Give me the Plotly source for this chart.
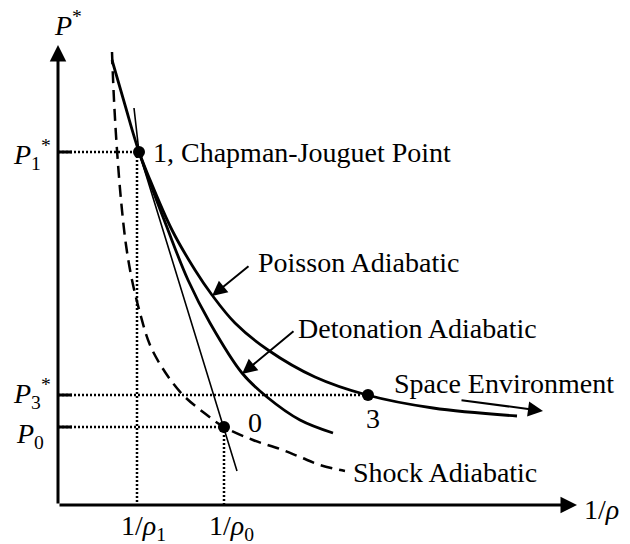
import plotly.graph_objects as go

# ---- data (schematic units: 1/rho on x, P* on y) ----
pois_x = [0.81, 0.90, 1.14, 1.37, 1.54, 1.77, 2.10, 2.57, 3.09, 3.75, 4.59]
pois_y = [3.53, 3.30, 2.75, 2.35, 2.10, 1.82, 1.55, 1.28, 1.10, 0.97, 0.89]

det_x = [0.54, 0.67, 0.81, 1.10, 1.30, 1.52, 1.84, 2.09, 2.42, 2.75]
det_y = [4.45, 4.00, 3.53, 2.75, 2.25, 1.82, 1.32, 1.08, 0.85, 0.72]

ray_x = [0.76, 0.81, 1.79]
ray_y = [3.97, 3.53, 0.34]

shock_x = [0.54, 0.56, 0.59, 0.63, 0.68, 0.74, 0.82, 0.92, 1.07, 1.25, 1.45, 1.66, 1.95, 2.22, 2.42, 2.62, 2.87]
shock_y = [4.53, 4.05, 3.55, 3.05, 2.60, 2.25, 1.92, 1.60, 1.33, 1.10, 0.93, 0.78, 0.65, 0.56, 0.48, 0.40, 0.34]

inv_rho1 = 0.79
inv_rho0 = 1.66
P1 = 3.53
P3 = 1.10
P0 = 0.78

pt_x = [0.81, 1.66, 3.10]   # points 1, 0, 3
pt_y = [3.53, 0.78, 1.10]

x_axis_end = 5.19
y_axis_end = 4.60

space_arrow = (4.02, 1.05, 4.85, 0.94)   # tail x, tail y, head x, head y
pois_arrow = (1.92, 2.40, 1.54, 2.09)
det_arrow = (2.37, 1.75, 1.84, 1.31)

FONT = "Liberation Serif"
FS = 28

fig = go.Figure()

# dotted guide lines
dot = dict(color="black", width=2.5, dash="2px,2px")
guides = [
    ([0, pt_x[0]], [P1, P1]),
    ([inv_rho1, inv_rho1], [P1, 0]),
    ([0, pt_x[2]], [P3, P3]),
    ([0, pt_x[1]], [P0, P0]),
    ([inv_rho0, inv_rho0], [P0, 0]),
]
for gx, gy in guides:
    fig.add_trace(go.Scatter(x=gx, y=gy, mode="lines", line=dot, hoverinfo="skip"))

# short solid ticks on the P axis
for p in [P1, P3, P0]:
    fig.add_trace(go.Scatter(x=[0, 0.14], y=[p, p], mode="lines",
                             line=dict(color="black", width=3), hoverinfo="skip"))

# curves
fig.add_trace(go.Scatter(x=shock_x, y=shock_y, mode="lines", line_shape="spline",
                         line=dict(color="black", width=2.5, dash="12px,7px")))
fig.add_trace(go.Scatter(x=ray_x, y=ray_y, mode="lines",
                         line=dict(color="black", width=1.6)))
fig.add_trace(go.Scatter(x=det_x, y=det_y, mode="lines", line_shape="spline",
                         line=dict(color="black", width=2.8)))
fig.add_trace(go.Scatter(x=pois_x, y=pois_y, mode="lines", line_shape="spline",
                         line=dict(color="black", width=2.8)))

# points
fig.add_trace(go.Scatter(x=pt_x, y=pt_y, mode="markers",
                         marker=dict(color="black", size=12)))

ann = []
# axes with arrowheads
for hx, hy in [(x_axis_end, 0), (0, y_axis_end)]:
    ann.append(dict(x=hx, y=hy, ax=0, ay=0, xref="x", yref="y", axref="x", ayref="y",
                    text="", showarrow=True, arrowhead=2, arrowwidth=3, arrowsize=1.1,
                    arrowcolor="black", standoff=0))

for tx, ty, hx, hy in [space_arrow, pois_arrow, det_arrow]:
    ann.append(dict(x=hx, y=hy, ax=tx, ay=ty, xref="x", yref="y", axref="x", ayref="y",
                    text="", showarrow=True, arrowhead=2, arrowwidth=2, arrowsize=1.5,
                    arrowcolor="black", standoff=0))

def label(text, x, y, xanchor="left", yanchor="middle", xshift=0, yshift=0):
    ann.append(dict(x=x, y=y, xref="x", yref="y", text=text, showarrow=False,
                    xanchor=xanchor, yanchor=yanchor, xshift=xshift, yshift=yshift,
                    font=dict(family=FONT, size=FS, color="black")))

label("<i>P</i><sup>*</sup>", 0, y_axis_end, xanchor="left", yanchor="bottom", xshift=-6, yshift=2)
label("<i>P</i><sub>1</sub><sup>*</sup>", 0, P1, xanchor="right", xshift=-5, yshift=-2)
label("<i>P</i><sub>3</sub><sup>*</sup>", 0, P3, xanchor="right", xshift=-5, yshift=2)
label("<i>P</i><sub>0</sub>", 0, P0, xanchor="right", xshift=-12, yshift=-8)
label("1/<i>ρ</i><sub>1</sub>", inv_rho1, 0, xanchor="center", yanchor="top", xshift=6, yshift=-3)
label("1/<i>ρ</i><sub>0</sub>", inv_rho0, 0, xanchor="center", yanchor="top", xshift=7, yshift=-3)
label("1/<i>ρ</i>", x_axis_end, 0, xanchor="left", yanchor="middle", xshift=5, yshift=-4)
label("1, Chapman-Jouguet Point", pt_x[0], pt_y[0], xshift=12)
label("0", pt_x[1], pt_y[1], xanchor="center", xshift=31, yshift=5)
label("3", pt_x[2], pt_y[2], xanchor="center", xshift=5, yshift=-23)
label("Poisson Adiabatic", pois_arrow[0], pois_arrow[1], xshift=6, yshift=3)
label("Detonation Adiabatic", det_arrow[0], det_arrow[1], xshift=1, yshift=2)
label("Space Environment", space_arrow[0], space_arrow[1], xshift=-68, yshift=17)
label("Shock Adiabatic", shock_x[-1], shock_y[-1], xshift=6, yshift=-1)

fig.update_layout(
    width=630, height=544, autosize=False,
    margin=dict(l=0, r=0, t=0, b=0),
    paper_bgcolor="white", plot_bgcolor="white",
    showlegend=False,
    xaxis=dict(range=[-0.58, 5.72], visible=False, fixedrange=True),
    yaxis=dict(range=[-0.39, 5.05], visible=False, fixedrange=True),
    annotations=ann,
)

fig.write_html("out.html", config={"displayModeBar": False})
